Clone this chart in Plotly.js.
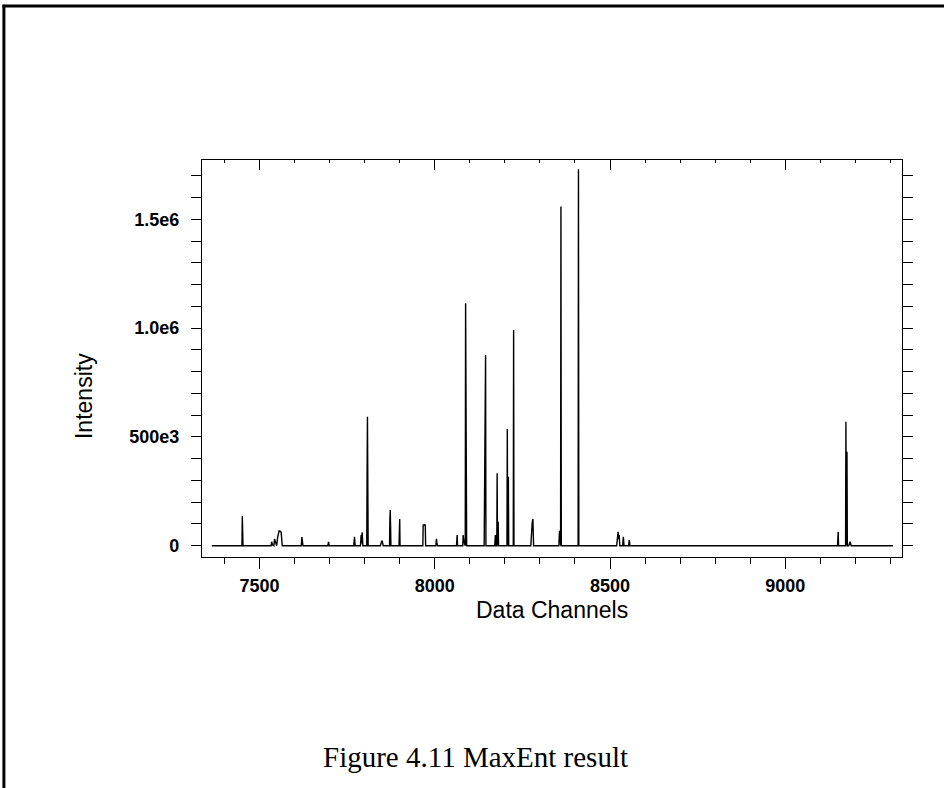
<!DOCTYPE html>
<html>
<head>
<meta charset="utf-8">
<script src="https://cdn.plot.ly/plotly-3.0.1.min.js"></script>
<style>
  html, body { margin: 0; padding: 0; background: #ffffff; }
  #chart { width: 944px; height: 788px; }
</style>
</head>
<body>
<div id="chart"></div>
<script>
// Data channels (x) and MaxEnt intensity (y)
const channels = [
  7364,
  7450, 7451, 7452, 7453,
  7533, 7535, 7537, 7541, 7543, 7546, 7549, 7552, 7556, 7560, 7562, 7565,
  7619, 7621, 7622, 7624,
  7695, 7697, 7699,
  7769, 7771, 7773,
  7788, 7790, 7791, 7793, 7795,
  7806, 7807, 7808, 7810,
  7845, 7848, 7850, 7853,
  7871, 7872, 7873, 7874, 7875,
  7898, 7899, 7900, 7901,
  7966, 7967, 7969, 7971, 7973, 7974,
  8003, 8005, 8006, 8008,
  8062, 8064, 8065,
  8080, 8081, 8083, 8087, 8088, 8089, 8090, 8091,
  8141, 8142, 8143, 8145, 8146,
  8171, 8173, 8174, 8177, 8178, 8179, 8181, 8182,
  8206, 8207, 8208, 8210, 8211,
  8224, 8225, 8226,
  8274, 8276, 8278, 8280, 8281, 8282,
  8354, 8356, 8358, 8359, 8360, 8361,
  8409, 8410, 8411,
  8519, 8521, 8523, 8525, 8526, 8528,
  8536, 8538, 8540,
  8553, 8555, 8557,
  9149, 9151, 9152,
  9172, 9173, 9174, 9176, 9177,
  9181, 9183, 9185, 9188,
  9307
];
const intensity = [
  0,
  0, 136000, 87000, 0,
  0, 18000, 4000, 0, 31000, 8000, 0, 40000, 68000, 66000, 60000, 0,
  0, 40000, 20000, 0,
  0, 18000, 0,
  0, 41000, 0,
  0, 49000, 10000, 62000, 0,
  0, 340000, 593000, 0,
  0, 18000, 23000, 0,
  0, 118000, 164000, 90000, 0,
  0, 110000, 123000, 0,
  0, 95000, 97000, 96000, 95000, 0,
  0, 31000, 15000, 0,
  0, 49000, 0,
  0, 49000, 20000, 0, 1114000, 0, 466000, 0,
  0, 440000, 0, 877000, 0,
  0, 49000, 0, 0, 333000, 0, 110000, 0,
  0, 536000, 0, 317000, 0,
  0, 992000, 0,
  0, 64000, 104000, 123000, 60000, 0,
  0, 68000, 40000, 0, 1559000, 0,
  0, 1731000, 0,
  0, 50000, 64000, 30000, 49000, 0,
  0, 41000, 0,
  0, 26000, 0,
  0, 64000, 0,
  0, 570000, 0, 432000, 0,
  0, 8000, 18000, 0,
  0
];
const yTickVals = [0, 500000, 1000000, 1500000];
const yTickText = ['0', '500e3', '1.0e6', '1.5e6'];
const xTickVals = [7500, 8000, 8500, 9000];
const xTickText = ['7500', '8000', '8500', '9000'];

const xRange = [7336, 9333];
const yRange = [-52000, 1773000];

const tickFont = { family: 'Liberation Sans, Arial, sans-serif', size: 18, color: '#000000', weight: 'bold' };
const titleFont = { family: 'Liberation Sans, Arial, sans-serif', size: 23, color: '#000000' };

const traces = [
  {
    type: 'scatter',
    mode: 'lines',
    x: channels,
    y: intensity,
    line: { color: '#000000', width: 1.4 },
    hoverinfo: 'x+y',
    showlegend: false
  },
  {
    // same data on the top axis so that the top frame and its ticks are drawn
    type: 'scatter',
    mode: 'lines',
    x: channels,
    y: intensity,
    xaxis: 'x2',
    yaxis: 'y',
    opacity: 0,
    line: { color: '#000000', width: 0.1 },
    hoverinfo: 'skip',
    showlegend: false
  }
];

const layout = {
  width: 944,
  height: 788,
  margin: { l: 202, r: 42, t: 160, b: 231 },
  paper_bgcolor: '#ffffff',
  plot_bgcolor: '#ffffff',
  showlegend: false,
  xaxis: {
    range: xRange,
    showgrid: false,
    zeroline: false,
    showline: true,
    linecolor: '#000000',
    linewidth: 1.2,
    ticks: 'outside',
    ticklen: 11,
    tickwidth: 1.2,
    tickcolor: '#000000',
    tickvals: xTickVals,
    ticktext: xTickText,
    tickfont: tickFont,
    ticklabelstandoff: 1,
    minor: { dtick: 100, tick0: 0, ticks: 'outside', ticklen: 6, tickwidth: 1, tickcolor: '#000000', showgrid: false }
  },
  xaxis2: {
    range: xRange,
    overlaying: 'x',
    anchor: 'y',
    side: 'top',
    showgrid: false,
    zeroline: false,
    showline: true,
    linecolor: '#000000',
    linewidth: 1.2,
    ticks: 'inside',
    ticklen: 10,
    tickwidth: 1.2,
    tickcolor: '#000000',
    tickvals: xTickVals,
    showticklabels: false,
    minor: { dtick: 100, tick0: 0, ticks: 'inside', ticklen: 3, tickwidth: 1, tickcolor: '#000000', showgrid: false }
  },
  yaxis: {
    range: yRange,
    showgrid: false,
    zeroline: false,
    showline: true,
    mirror: 'allticks',
    linecolor: '#000000',
    linewidth: 1.2,
    ticks: 'outside',
    ticklen: 10,
    tickwidth: 1.2,
    tickcolor: '#000000',
    tickvals: yTickVals,
    ticktext: yTickText,
    tickfont: tickFont,
    ticklabelstandoff: 8,
    minor: { dtick: 100000, tick0: 0, ticks: 'outside', ticklen: 5, tickwidth: 1, tickcolor: '#000000', showgrid: false }
  },
  annotations: [
    {
      text: 'Data Channels', xref: 'paper', yref: 'paper', x: 0.5, y: 0,
      xanchor: 'center', yanchor: 'middle', yshift: -53, showarrow: false,
      font: titleFont
    },
    {
      text: 'Intensity', xref: 'paper', yref: 'paper', x: 0, y: 0.4055,
      xanchor: 'center', yanchor: 'middle', xshift: -118, textangle: -90, showarrow: false,
      font: titleFont
    },
    {
      text: 'Figure 4.11 MaxEnt result', xref: 'paper', yref: 'paper', x: 0.39, y: 0,
      xanchor: 'center', yanchor: 'middle', yshift: -200, showarrow: false,
      font: { family: 'Liberation Serif, Times New Roman, serif', size: 29, color: '#000000' }
    }
  ],
  shapes: [
    { type: 'line', xref: 'paper', yref: 'paper', x0: -0.283, x1: -0.283, y0: -0.6, y1: 1.391,
      line: { color: '#000000', width: 3 } },
    { type: 'line', xref: 'paper', yref: 'paper', x0: -0.285, x1: 1.07, y0: 1.388, y1: 1.388,
      line: { color: '#000000', width: 3 } }
  ]
};

Plotly.newPlot('chart', traces, layout, { displayModeBar: false });
</script>
</body>
</html>
